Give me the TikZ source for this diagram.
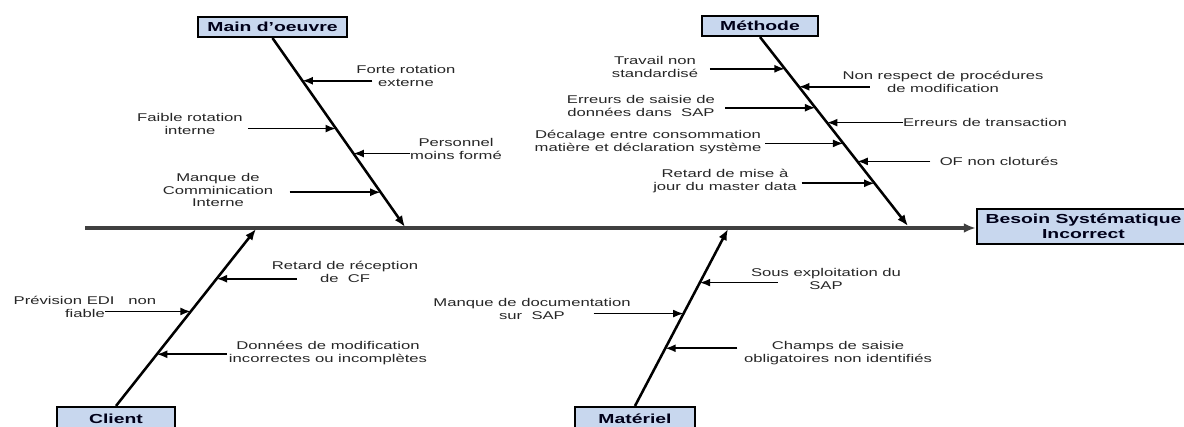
\documentclass[tikz,border=0pt]{standalone}
\usepackage{fontspec}
\setmainfont[FakeStretch=1.48]{Liberation Sans}
\usetikzlibrary{arrows.meta,calc}
\definecolor{boxblue}{RGB}{200,215,238}
\tikzset{
	catbox/.style={draw=black, line width=1.5pt, fill=boxblue, inner sep=0pt,
		font=\fontsize{9.3}{10.6}\selectfont\bfseries, text=black!90!blue},
	cause/.style={align=center, inner sep=0pt, text=black!85,
		font=\fontsize{8}{8.9}\selectfont},
	bone/.style={line width=1.8pt, -{Latex[length=2.8mm,width=2.2mm]}},
	sub/.style={line width=1.2pt, -{Latex[length=2.6mm,width=2mm]}}
}
\begin{document}
\begin{tikzpicture}[x=0.025cm, y=-0.025cm]
		\useasboundingbox (0,0) rectangle (1184,427);
		% categories and effect
		\node[catbox, minimum width=3.725cm, minimum height=0.5cm] (mo) at (272.5,27) {Main d'oeuvre};
		\node[catbox, minimum width=2.9cm, minimum height=0.5cm] (me) at (760,26) {Méthode};
		\node[catbox, minimum width=2.95cm, minimum height=0.6cm] (cl) at (116,419) {Client};
		\node[catbox, minimum width=3cm, minimum height=0.6cm] (ma) at (635,419) {Matériel};
		\node[catbox, minimum width=5.325cm, minimum height=0.875cm, align=center] (bes) at (1083.5,226.5) {Besoin Systématique\\Incorrect};
		% spine
		\coordinate (tail) at (85,228);
		\draw[line width=2.2pt, black!75, -{Latex[length=3mm,width=2.4mm]}] (tail) -- (tail -| bes.west);
		% bones
		\coordinate (moend) at (405,227);
		\coordinate (meend) at (908,226);
		\coordinate (clend) at (256,229);
		\coordinate (maend) at (728,229);
		\draw[bone] (mo.south) -- (moend);
		\draw[bone] (me.south) -- (meend);
		\draw[bone] (cl.north) -- (clend);
		\draw[bone] (ma.north) -- (maend);
		\path (mo.south) -- (moend)
			coordinate[pos=.226] (mo1) coordinate[pos=.479] (mo2)
			coordinate[pos=.611] (mo3) coordinate[pos=.816] (mo4);
		\path (me.south) -- (meend)
			coordinate[pos=.168] (me1) coordinate[pos=.263] (me2)
			coordinate[pos=.374] (me3) coordinate[pos=.453] (me4)
			coordinate[pos=.563] (me5) coordinate[pos=.658] (me6)
			coordinate[pos=.774] (me7);
		\path (cl.north) -- (clend)
			coordinate[pos=.719] (cl1) coordinate[pos=.534] (cl2)
			coordinate[pos=.292] (cl3);
		\path (ma.north) -- (maend)
			coordinate[pos=.697] (ma1) coordinate[pos=.522] (ma2)
			coordinate[pos=.326] (ma3);
		% causes
		\foreach \c/\d in {mo1/70, mo2/-88, mo3/57, mo4/-91,
			me1/-75, me2/71, me3/-90, me4/76, me5/-78, me6/73, me7/-73,
			cl1/80, cl2/-86, cl3/70, ma1/78, ma2/-90, ma3/72}
			\draw[sub] ($(\c)+(\d,0)$) -- (\c);
		\node[cause] (mo1txt) at (406,76) {Forte rotation\\externe};
		\node[cause] (mo2txt) at (190,124) {Faible rotation\\interne};
		\node[cause] (mo3txt) at (456,149) {Personnel\\moins formé};
		\node[cause] (mo4txt) at (218,190) {Manque de\\Comminication\\Interne};
		\node[cause] (me1txt) at (655,67) {Travail non\\standardisé};
		\node[cause] (me2txt) at (943,82) {Non respect de procédures\\de modification};
		\node[cause] (me3txt) at (641,106) {Erreurs de saisie de\\données dans\ \ SAP};
		\node[cause] (me4txt) at (985,122) {Erreurs de transaction};
		\node[cause] (me5txt) at (648,142) {Décalage entre consommation\\matière et déclaration système};
		\node[cause] (me6txt) at (999,161) {OF non cloturés};
		\node[cause] (me7txt) at (725,181) {Retard de mise à\\jour du master data};
		\node[cause] (cl1txt) at (345,272) {Retard de réception\\de\ \ CF};
		\node[cause] (cl2txt) at (85,307) {Prévision EDI\ \ \ non\\fiable};
		\node[cause] (cl3txt) at (328,353) {Données de modification\\incorrectes ou incomplètes};
		\node[cause] (ma1txt) at (826,279) {Sous exploitation du\\SAP};
		\node[cause] (ma2txt) at (532,309) {Manque de documentation\\sur\ \ SAP};
		\node[cause] (ma3txt) at (838,353) {Champs de saisie\\obligatoires non identifiés};
\end{tikzpicture}
\end{document}
